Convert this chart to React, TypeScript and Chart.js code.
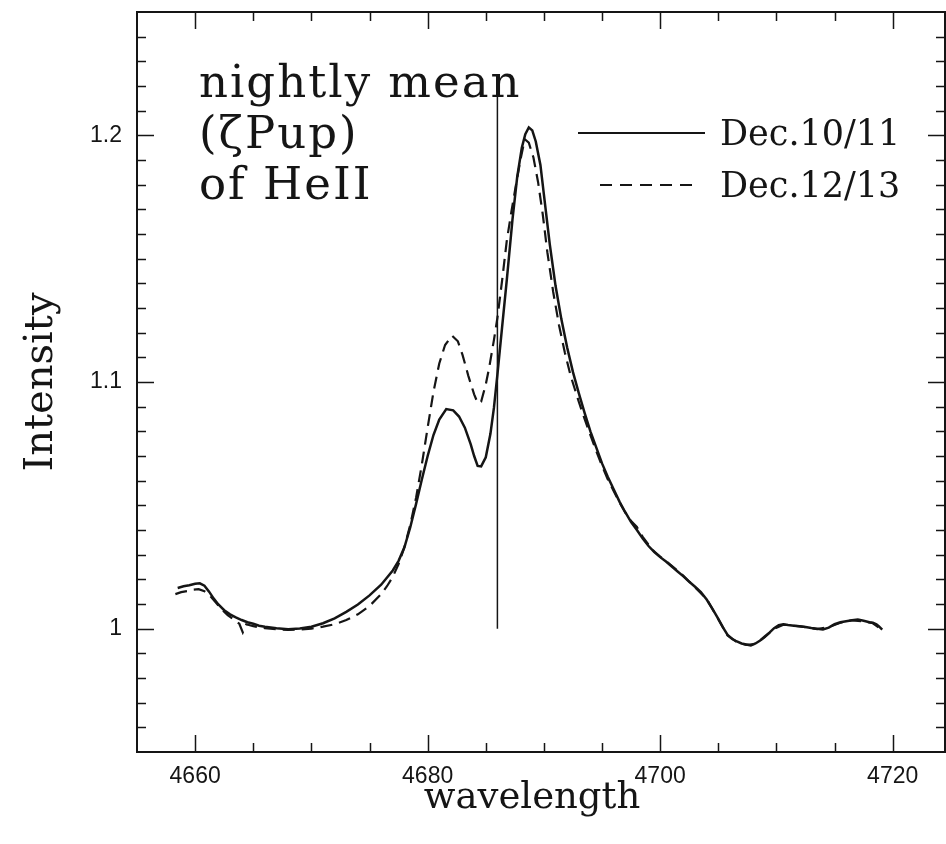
import React, { useEffect, useRef } from "react";
import { Chart, registerables } from "chart.js";

Chart.register(...registerables);

// ---- data ----
const wavelengthsA = [
  4658.5, 4659.0, 4659.5, 4660.0, 4660.4, 4660.8, 4661.2, 4661.6, 4662.0, 4662.5,
  4663.0, 4663.5, 4664.0, 4664.5, 4665.0, 4665.5, 4666.0, 4667.0, 4668.0, 4669.0,
  4670.0, 4671.0, 4672.0, 4673.0, 4674.0, 4675.0, 4676.0, 4677.0, 4677.5, 4678.0,
  4678.5, 4679.0, 4679.5, 4680.0, 4680.5, 4681.0, 4681.6, 4682.2, 4682.7, 4683.2,
  4683.7, 4684.0, 4684.3, 4684.6, 4685.0, 4685.4, 4685.7, 4686.0, 4686.4, 4686.8,
  4687.3, 4687.7, 4688.1, 4688.4, 4688.7, 4689.0, 4689.3, 4689.7, 4690.0, 4690.5,
  4691.0, 4691.5, 4692.0, 4692.5, 4693.0, 4693.5, 4694.0, 4694.5, 4695.0, 4695.5,
  4696.0, 4696.5, 4697.0, 4697.5, 4698.0, 4698.5, 4699.0, 4699.5, 4700.0, 4700.5,
  4701.0, 4701.5, 4702.0, 4702.5, 4703.0, 4703.5, 4704.0, 4704.5, 4705.0, 4705.4,
  4705.8, 4706.2, 4706.6, 4707.0, 4707.4, 4707.8, 4708.2, 4708.6, 4709.0, 4709.4,
  4709.8, 4710.2, 4710.6, 4711.0, 4711.5, 4712.0, 4712.5, 4713.0, 4713.5, 4714.0,
  4714.5, 4715.0, 4715.5, 4716.0, 4716.5, 4717.0, 4717.5, 4718.0, 4718.3, 4718.6,
  4718.8, 4719.1,
];
const intensityA = [
  1.0165, 1.0172, 1.0176, 1.0182, 1.0184, 1.0174, 1.0150, 1.0122, 1.0098, 1.0075,
  1.0058, 1.0046, 1.0035, 1.0026, 1.0020, 1.0012, 1.0008, 1.0002, 0.9998, 1.0001,
  1.0008, 1.0022, 1.0042, 1.0068, 1.0098, 1.0135, 1.0178, 1.0236, 1.0275, 1.0330,
  1.0410, 1.0505, 1.0605, 1.0700, 1.0785, 1.0848, 1.0890, 1.0885, 1.0860, 1.0815,
  1.0748, 1.0700, 1.0660, 1.0658, 1.0695, 1.0790, 1.0895, 1.1030, 1.1220, 1.1410,
  1.1660, 1.1830, 1.1950, 1.2005, 1.2032, 1.2020, 1.1975, 1.1880, 1.1760, 1.1560,
  1.1390, 1.1255, 1.1140, 1.1040, 1.0955, 1.0875, 1.0800, 1.0735, 1.0670, 1.0615,
  1.0565, 1.0515, 1.0472, 1.0432, 1.0400, 1.0365, 1.0335, 1.0310, 1.0290, 1.0272,
  1.0252, 1.0232, 1.0212, 1.0190, 1.0170, 1.0148, 1.0118, 1.0080, 1.0040, 1.0005,
  0.9975, 0.9958, 0.9948, 0.9940, 0.9936, 0.9932, 0.9940, 0.9952, 0.9968, 0.9984,
  1.0002, 1.0014, 1.0018, 1.0015, 1.0012, 1.0010, 1.0007, 1.0003, 1.0000, 0.9997,
  1.0004, 1.0018, 1.0026, 1.0030, 1.0034, 1.0037, 1.0032, 1.0026, 1.0024, 1.0018,
  1.0010, 0.9996,
];

const wavelengthsB = [
  4658.3, 4658.8, 4659.3, 4659.8, 4660.3, 4660.8, 4661.3, 4661.8, 4662.3, 4662.8,
  4663.3, 4663.8, 4664.1, 4664.4, 4665.0, 4666.0, 4667.0, 4668.0, 4669.0, 4670.0,
  4671.0, 4672.0, 4673.0, 4674.0, 4675.0, 4676.0, 4676.5, 4677.0, 4677.5, 4678.0,
  4678.5, 4679.0, 4679.5, 4680.0, 4680.5, 4681.0, 4681.5, 4682.1, 4682.6, 4683.0,
  4683.5, 4684.0, 4684.3, 4684.6, 4685.0, 4685.3, 4685.7, 4686.0, 4686.4, 4686.8,
  4687.2, 4687.6, 4688.0, 4688.35, 4688.7, 4689.1, 4689.5, 4689.9, 4690.3, 4690.8,
  4691.3, 4691.8, 4692.3, 4693.0, 4693.5, 4694.0, 4694.5, 4695.0, 4695.5, 4696.0,
  4696.5, 4697.0, 4697.5, 4698.0, 4698.5, 4699.0, 4699.5, 4700.0, 4701.0, 4702.0,
  4703.0, 4704.0, 4705.0, 4705.8, 4706.6, 4707.4, 4708.2, 4709.0, 4709.8, 4710.6,
  4711.5, 4712.5, 4713.5, 4714.5, 4715.5, 4716.5, 4717.5, 4718.3, 4719.0,
];
const intensityB = [
  1.0140, 1.0148, 1.0152, 1.0158, 1.0160, 1.0152, 1.0132, 1.0105, 1.0078, 1.0055,
  1.0038, 1.0020, 0.9985, 1.0018, 1.0010, 1.0002, 0.9998, 0.9995, 0.9996, 1.0000,
  1.0008, 1.0018, 1.0035, 1.0058, 1.0092, 1.0140, 1.0172, 1.0210, 1.0262, 1.0330,
  1.0420, 1.0530, 1.0665, 1.0815, 1.0960, 1.1075, 1.1150, 1.1188, 1.1165, 1.1110,
  1.1025, 1.0950, 1.0915, 1.0920, 1.0990, 1.1060, 1.1170, 1.1260, 1.1410, 1.1570,
  1.1690, 1.1800, 1.1905, 1.1984, 1.1970, 1.1910, 1.1810, 1.1680, 1.1525, 1.1365,
  1.1230, 1.1120, 1.1025, 1.0920, 1.0850, 1.0785, 1.0720, 1.0660, 1.0605, 1.0558,
  1.0512, 1.0470, 1.0436, 1.0412, 1.0372, 1.0340, 1.0312, 1.0292, 1.0255, 1.0214,
  1.0168, 1.0120, 1.0038, 0.9972, 0.9946, 0.9934, 0.9938, 0.9966, 1.0000, 1.0016,
  1.0012, 1.0006, 0.9998, 1.0006, 1.0024, 1.0034, 1.0030, 1.0022, 0.9998,
];

const restWavelength = 4686.0;
const markerIntensities = [1.0, 1.2166];

const xRange = [4655, 4724.5];
const yRange = [0.95, 1.25];
const xTickValues = [4660, 4680, 4700, 4720];
const xTickLabels = ["4660", "4680", "4700", "4720"];
const yTickValues = [1, 1.1, 1.2];
const yTickLabels = ["1", "1.1", "1.2"];
const xMinorStep = 5;
const yMinorStep = 0.01;

const seriesLabels = ["Dec.10/11", "Dec.12/13"];
const noteLines = ["nightly mean", "(\u03B6Pup)", "of HeII"];
const xTitle = "wavelength";
const yTitle = "Intensity";

const INK = "#151515";
const SERIF = "'DejaVu Serif', serif";
const SANS = "'Liberation Sans', Arial, sans-serif";

const framePlugin = {
  id: "frameAndNotes",
  afterDatasetsDraw(chart: any) {
    const { ctx, chartArea, scales } = chart;
    const { left, right, top, bottom } = chartArea;
    const xs = scales.x;
    const ys = scales.y;
    ctx.save();
    ctx.strokeStyle = INK;
    ctx.lineWidth = 2;
    ctx.strokeRect(left, top, right - left, bottom - top);

    // x ticks (bottom and top), inward
    ctx.lineWidth = 1.5;
    const xStart = Math.ceil(xRange[0] / xMinorStep) * xMinorStep;
    for (let v = xStart; v <= xRange[1]; v += xMinorStep) {
      const px = Math.round(xs.getPixelForValue(v)) + 0.5;
      if (px <= left + 2 || px >= right - 2) continue;
      const len = v % 20 === 0 ? 17 : 9;
      ctx.beginPath();
      ctx.moveTo(px, bottom);
      ctx.lineTo(px, bottom - len);
      ctx.moveTo(px, top);
      ctx.lineTo(px, top + len);
      ctx.stroke();
    }
    // y ticks (left and right), inward
    const i0 = Math.ceil(yRange[0] / yMinorStep - 1e-6);
    const i1 = Math.floor(yRange[1] / yMinorStep + 1e-6);
    for (let i = i0; i <= i1; i++) {
      const v = i * yMinorStep;
      const py = Math.round(ys.getPixelForValue(v)) + 0.5;
      if (py <= top + 2 || py >= bottom - 2) continue;
      const len = i % 10 === 0 ? 17 : 9;
      ctx.beginPath();
      ctx.moveTo(left, py);
      ctx.lineTo(left + len, py);
      ctx.moveTo(right, py);
      ctx.lineTo(right - len, py);
      ctx.stroke();
    }

    ctx.fillStyle = INK;

    // x-axis title
    ctx.font = `37px ${SERIF}`;
    ctx.textAlign = "center";
    ctx.textBaseline = "alphabetic";
    ctx.fillText(xTitle, 532, 808);

    // notes (top-left)
    ctx.font = `45px ${SERIF}`;
    ctx.textAlign = "left";
    try { (ctx as any).letterSpacing = "2px"; } catch (e) {}
    const noteBaselines = [97, 148, 199];
    noteLines.forEach((t, i) => ctx.fillText(t, 199, noteBaselines[i]));
    try { (ctx as any).letterSpacing = "0px"; } catch (e) {}

    // legend
    const legendY = [133, 185];
    ctx.lineWidth = 2;
    ctx.strokeStyle = INK;
    ctx.beginPath();
    ctx.setLineDash([]);
    ctx.moveTo(578, legendY[0]);
    ctx.lineTo(705, legendY[0]);
    ctx.stroke();
    ctx.beginPath();
    ctx.setLineDash([12, 8]);
    ctx.moveTo(600, legendY[1]);
    ctx.lineTo(700, legendY[1]);
    ctx.stroke();
    ctx.setLineDash([]);
    ctx.font = `35px ${SERIF}`;
    ctx.fillText(seriesLabels[0], 720, legendY[0] + 12);
    ctx.fillText(seriesLabels[1], 720, legendY[1] + 12);
    ctx.restore();
  },
};

export default function App() {
  const ref = useRef<HTMLCanvasElement | null>(null);
  useEffect(() => {
    if (!ref.current) return;
    const dataA = wavelengthsA.map((x, i) => ({ x, y: intensityA[i] }));
    const dataB = wavelengthsB.map((x, i) => ({ x, y: intensityB[i] }));
    const marker = markerIntensities.map((y) => ({ x: restWavelength, y }));
    const chart = new Chart(ref.current, {
      type: "line",
      data: {
        datasets: [
          {
            label: seriesLabels[1],
            data: dataB,
            borderColor: INK,
            borderWidth: 2.2,
            borderDash: [12, 7],
            pointRadius: 0,
            tension: 0,
          },
          {
            label: seriesLabels[0],
            data: dataA,
            borderColor: INK,
            borderWidth: 2.5,
            pointRadius: 0,
            tension: 0,
          },
          {
            label: "rest",
            data: marker,
            borderColor: INK,
            borderWidth: 1.5,
            pointRadius: 0,
          },
        ],
      },
      options: {
        animation: false,
        responsive: false,
        devicePixelRatio: 1,
        layout: { padding: { top: 12, right: 1, left: 0, bottom: 0 } },
        plugins: { legend: { display: false }, tooltip: { enabled: false } },
        scales: {
          x: {
            type: "linear",
            min: xRange[0],
            max: xRange[1],
            afterBuildTicks: (s: any) => {
              s.ticks = xTickValues.map((v) => ({ value: v }));
            },
            afterFit: (s: any) => {
              s.height = 92;
              s.paddingLeft = 0;
              s.paddingRight = 0;
            },
            grid: { display: false, drawTicks: false },
            border: { display: false },
            ticks: {
              color: INK,
              font: { family: SANS, size: 23 },
              padding: 11,
              maxRotation: 0,
              autoSkip: false,
              callback: (v: any) => {
                const i = xTickValues.indexOf(Number(v));
                return i >= 0 ? xTickLabels[i] : "";
              },
            },
            title: { display: false, text: xTitle },
          },
          y: {
            type: "linear",
            min: yRange[0],
            max: yRange[1],
            afterBuildTicks: (s: any) => {
              s.ticks = yTickValues.map((v) => ({ value: v }));
            },
            afterFit: (s: any) => {
              s.width = 137;
              s.paddingTop = 0;
              s.paddingBottom = 0;
            },
            grid: { display: false, drawTicks: false },
            border: { display: false },
            ticks: {
              color: INK,
              font: { family: SANS, size: 23 },
              padding: 15,
              autoSkip: false,
              callback: (v: any) => {
                const i = yTickValues.findIndex((t) => Math.abs(t - Number(v)) < 1e-6);
                return i >= 0 ? yTickLabels[i] : "";
              },
            },
            title: {
              display: true,
              text: yTitle,
              color: INK,
              font: { family: SERIF, size: 40 },
              padding: { top: 18, bottom: 0 },
            },
          },
        },
      },
      plugins: [framePlugin],
    });
    return () => chart.destroy();
  }, []);
  return (
    <div style={{ position: "fixed", left: 0, top: 0, width: 946, height: 844, background: "#fff" }}>
      <canvas ref={ref} width={946} height={844} style={{ width: 946, height: 844, display: "block" }} />
    </div>
  );
}
